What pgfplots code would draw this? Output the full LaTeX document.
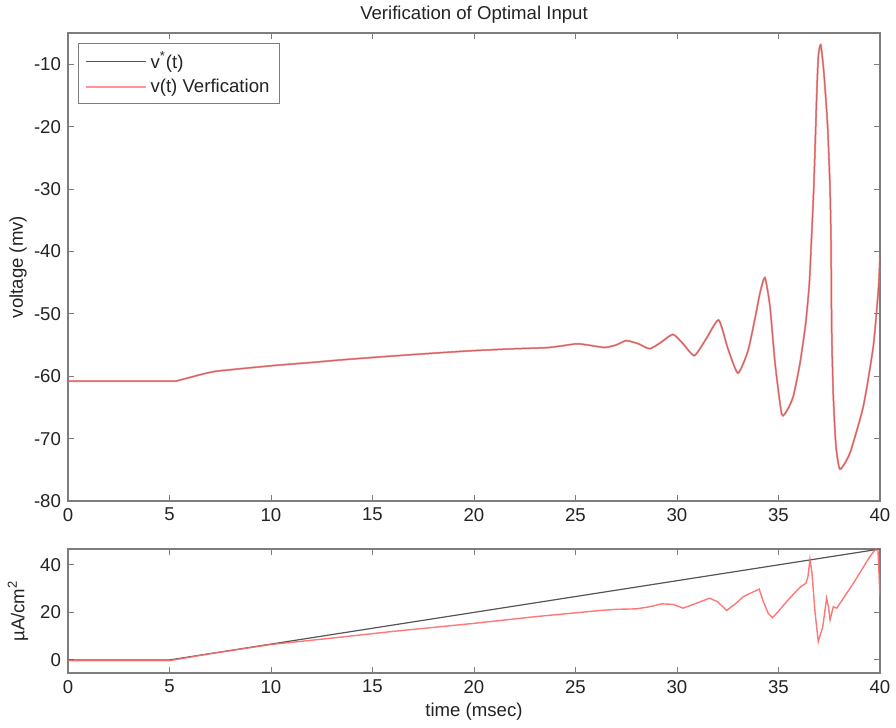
\documentclass[border=0pt]{standalone}
\usepackage{fontspec}
\setmainfont{Liberation Sans}
\usepackage{pgfplots}
\usepackage{pgfplotstable}
\pgfplotsset{compat=1.18}
\definecolor{vred}{RGB}{255,105,105}
\definecolor{vgray}{RGB}{85,85,85}
\definecolor{axgray}{RGB}{125,125,125}
\definecolor{txt}{RGB}{35,35,35}

\pgfplotstableread{
t v
0 -60.8
5.0 -60.8
5.4 -60.7
6.0 -60.2
6.7 -59.6
7.3 -59.2
8.5 -58.8
10.1 -58.3
12 -57.8
13.4 -57.4
15 -57.0
16.7 -56.6
18.5 -56.2
20 -55.9
22 -55.6
23.0 -55.5
23.7 -55.4
24.4 -55.1
25.1 -54.8
25.8 -55.1
26.45 -55.4
27.0 -55.0
27.5 -54.3
28.1 -54.8
28.65 -55.6
29.2 -54.6
29.8 -53.3
30.3 -54.8
30.85 -56.7
31.4 -54.2
32.05 -51.0
32.5 -55.5
33.0 -59.5
33.5 -55.9
33.85 -50.6
34.1 -46.5
34.33 -44.2
34.58 -48.8
34.83 -57.9
35.16 -66.1
35.45 -65.3
35.73 -63.2
36.06 -57.9
36.34 -51.5
36.52 -45.1
36.63 -37.6
36.72 -31.2
36.8 -23.7
36.88 -15.2
36.96 -8.8
37.08 -6.9
37.24 -11.5
37.42 -20.0
37.54 -30.1
37.59 -39.2
37.62 -52.5
37.7 -63.2
37.83 -71.2
38.03 -74.9
38.52 -72.3
39.18 -64.8
39.67 -55.2
39.92 -46.1
40.0 -40.8
}\voltage

\pgfplotstableread{
t u
0 0
5 0
40 46.7
}\ustar

\pgfplotstableread{
t u
0 -0.3
5 -0.3
7 2.6
10 6.5
12.9 9.1
16 12.0
20 15.4
23 18.2
26.2 20.8
27 21.3
28.0 21.5
28.6 22.3
29.25 23.6
29.8 23.4
30.3 21.8
31.0 24.0
31.6 26.0
32.0 24.5
32.45 20.8
33.0 24.5
33.27 26.7
34.05 29.8
34.25 24.6
34.5 19.5
34.71 17.8
35.0 20.5
35.4 24.6
36.06 30.6
36.35 32.3
36.45 35.0
36.55 42.4
36.65 36.5
36.8 20.0
36.96 7.7
37.18 14.0
37.37 26.0
37.47 22.0
37.54 16.8
37.7 22.4
37.87 21.8
38.69 32.3
39.5 43.5
39.75 46.3
39.9 46.3
40.0 26.7
}\uver

\begin{document}
\begin{tikzpicture}
\path[use as bounding box] (0,0) rectangle (448pt,-364pt);
\pgfplotsset{every axis/.append style={
  scale only axis, width=406pt,
  xmin=0, xmax=40, xtick={0,5,...,40},
  tick align=inside,
  axis line style={axgray, line width=0.6pt},
  every tick/.style={axgray, line width=0.5pt},
  major tick length=3pt,
  tick label style={font=\fontsize{9.3}{11}\selectfont, text=txt},
  label style={font=\fontsize{9.3}{11}\selectfont, text=txt},
  /pgf/number format/assume math mode=true,
  ylabel style={at={(axis description cs:-0.0616,0.5)}, anchor=center},
}}
\pgfplotsset{every axis title/.style={at={(0.5,1)}, anchor=base, yshift=7pt,
  font=\fontsize{9.3}{11}\selectfont, text=txt}}

\begin{axis}[
  at={(34pt,-250.5pt)}, anchor=south west, height=234pt,
  ymin=-80, ymax=-5, ytick={-80,-70,...,-10},
  title={Verification of Optimal Input},
  ylabel={voltage (mv)},
  legend style={at={(axis description cs:0.0123,0.9786)}, anchor=north west,
    draw=axgray, line width=0.6pt, font=\fontsize{9.3}{11}\selectfont, text=txt,
    inner xsep=3pt, inner ysep=2pt, row sep=0pt},
  legend cell align=left,
  legend image code/.code={\draw[#1] (0pt,0pt) -- (30pt,0pt);},
]
\addplot[vgray, line width=0.5pt, smooth, tension=0.35] table[x=t, y=v] {\voltage};
\addlegendentry{v\textsuperscript{*}(t)}
\addplot[vred, line width=1pt, opacity=0.7, smooth, tension=0.35] table[x=t, y=v] {\voltage};
\addlegendentry{v(t) Verfication}
\end{axis}

\begin{axis}[
  at={(34pt,-336.5pt)}, anchor=south west, height=62pt,
  ymin=-5.5, ymax=46.7, ytick={0,20,40},
  xlabel={time (msec)},
  xlabel style={at={(axis description cs:0.5,0)}, anchor=center, yshift=-19.5pt},
  ylabel={µA/cm\textsuperscript{2}},
]
\addplot[vgray, line width=0.6pt] table[x=t, y=u] {\ustar};
\addplot[vred, line width=0.7pt, opacity=0.9] table[x=t, y=u] {\uver};
\end{axis}
\end{tikzpicture}
\end{document}
